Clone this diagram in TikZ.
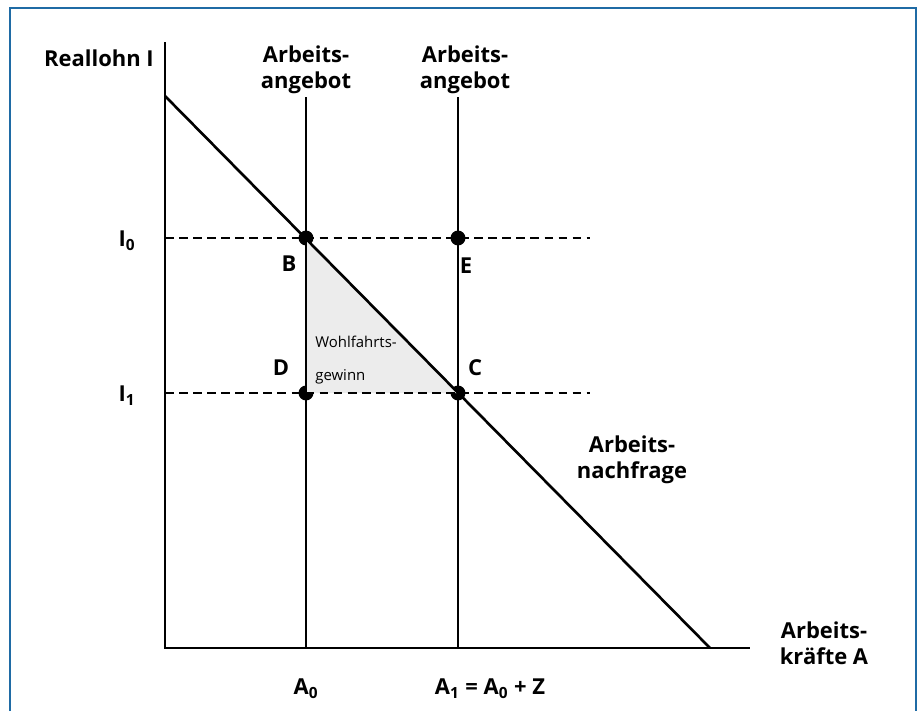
\documentclass[tikz,border=0pt]{standalone}
\usepackage{fontspec}
\setmainfont{Open Sans}
\usetikzlibrary{positioning}
\definecolor{frameblue}{RGB}{31,107,165}
\definecolor{gainfill}{RGB}{236,236,236}

\begin{document}
\begin{tikzpicture}[
    x=0.02cm, y=-0.02cm,
    lbl/.style={font=\fontsize{12.5}{15}\selectfont\bfseries, align=center, inner sep=0pt},
    note/.style={font=\fontsize{8.5}{19}\selectfont, align=left, inner sep=0pt},
    axis/.style={line width=1.5pt},
    guide/.style={line width=1.3pt, dash pattern=on 5pt off 3pt},
    dot/.style={circle, fill=black, inner sep=0pt, minimum size=8.5pt}
]
    \useasboundingbox (0,0) rectangle (923,711);
    % frame
    \draw[frameblue, line width=1.6pt] (10,711) -- (10,8) -- (916,8) -- (916,711);

    % axes
    \coordinate (O) at (165,648);
    \coordinate (ytop) at (165,42);
    \coordinate (xend) at (750,648);
    \coordinate (dtop) at (165,96);
    \coordinate (dend) at (710,648);

    % points
    \node[dot] (B) at (306,238) {};
    \node[dot] (E) at (458,238) {};
    \node[dot] (D) at (306,393) {};
    \node[dot] (C) at (458,393) {};
    \coordinate (s0top) at (306,97);
    \coordinate (s1top) at (458,97);
    \coordinate (s0bot) at (306,648);
    \coordinate (s1bot) at (458,648);
    \coordinate (l0a) at (165,238);
    \coordinate (l0b) at (590,238);
    \coordinate (l1a) at (165,393);
    \coordinate (l1b) at (590,393);

    \fill[gainfill] (B.center) -- (C.center) -- (D.center) -- cycle;

    \draw[guide] (l0a) -- (l0b);
    \draw[guide] (l1a) -- (l1b);
    \draw[axis] (ytop) -- (O) -- (xend);
    \draw[axis] (s0top) -- (s0bot);
    \draw[axis] (s1top) -- (s1bot);
    \draw[axis] (dtop) -- (dend);

    % labels
    \node[lbl] (ylab) at (99,58) {Reallohn I};
    \node[lbl] (sup0) at (306,70) {Arbeits-\\angebot};
    \node[lbl] (sup1) at (465,70) {Arbeits-\\angebot};
    \node[lbl] (dem) at (632,460) {Arbeits-\\nachfrage};
    \node[lbl] (xlab) at (824,643) {Arbeits-\\kräfte A};
    \node[lbl] (l0) at (127,241) {I\textsubscript{0}};
    \node[lbl] (l1) at (127,396) {I\textsubscript{1}};
    \node[lbl] (a0) at (306,689) {A\textsubscript{0}};
    \node[lbl] (a1) at (490,689) {A\textsubscript{1} = A\textsubscript{0} + Z};
    \node[lbl] (bl) at (289,264) {B};
    \node[lbl] (el) at (466,266) {E};
    \node[lbl] (dl) at (281,368) {D};
    \node[lbl] (cl) at (475,368) {C};
    \node[note, anchor=west] (gain) at (315,360) {Wohlfahrts-\\gewinn};
\end{tikzpicture}
\end{document}
